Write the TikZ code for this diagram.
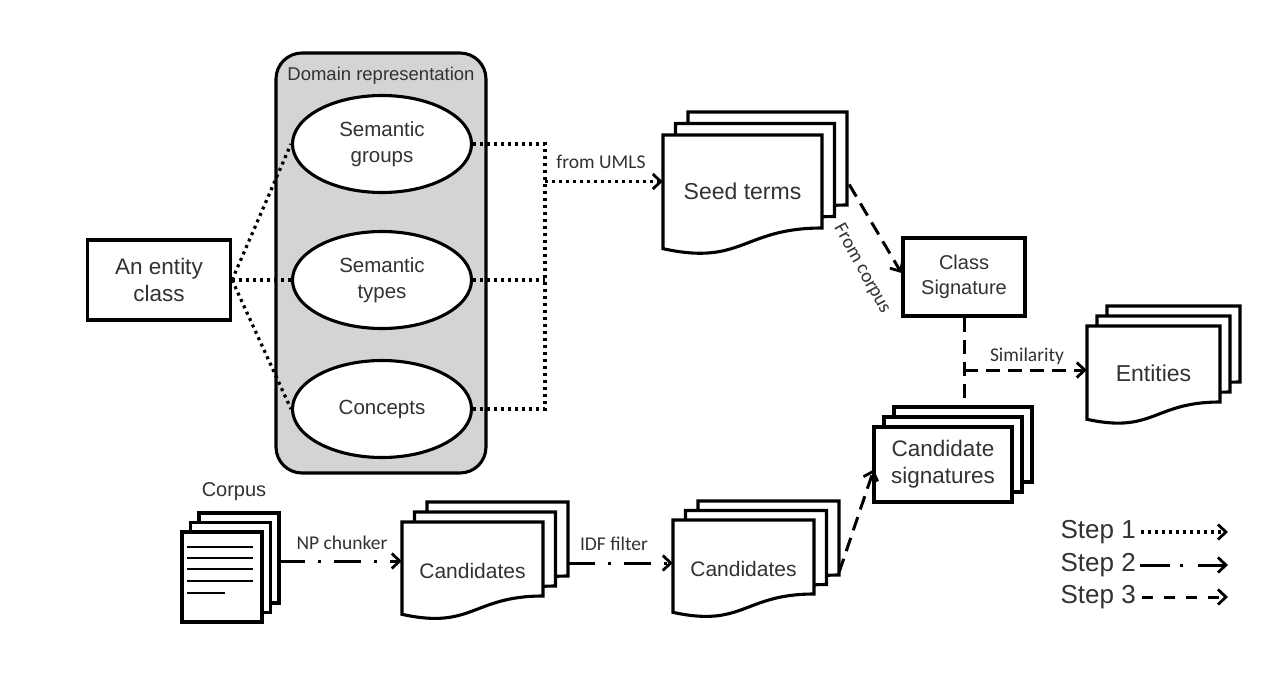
\documentclass[tikz,border=0pt]{standalone}
\usepackage{fontspec}
\setmainfont{Liberation Sans}
\newfontfamily\lblfont{Carlito}
\usetikzlibrary{arrows.meta,shapes.geometric}
\definecolor{domgray}{RGB}{212,212,214}
\definecolor{txt}{RGB}{50,50,50}
\tikzset{
  border/.style={draw=black, line width=3.1pt},
  page/.style={draw=black, fill=white, line width=3.1pt, line join=miter},
  dotl/.style={line width=3.2pt, dash pattern=on 3pt off 4pt},
  dashl/.style={line width=3pt, dash pattern=on 14pt off 8pt},
  ddotl/.style={line width=3pt, dash pattern=on 27pt off 13pt on 3pt off 13pt},
  arr/.style={-{Straight Barb[length=8pt,width=15pt,line width=2.8pt]}},
  lbl/.style={font=\lblfont\fontsize{19.5}{22}\selectfont, text=txt},
  ell/.style={ellipse, border, fill=white, minimum width=179, minimum height=97, align=center, font=\fontsize{20.5}{26}\selectfont, inner sep=0pt},
  legend/.style={font=\fontsize{26}{28}\selectfont, anchor=east, inner sep=1pt},
}
\newcommand{\wavydoc}[9]{%
  \foreach \k in {2,1,0}{%
    \draw[page] ({#2+\k*#6},{#3-\k*#7}) -- ({#2+\k*#6+#4},{#3-\k*#7}) -- ({#2+\k*#6+#4},{#3-\k*#7+#5})
      .. controls ({#2+\k*#6+0.5*#4},{#3-\k*#7+#5}) and ({#2+\k*#6+0.5*#4},{#3-\k*#7+#5+0.24*#4}) .. ({#2+\k*#6},{#3-\k*#7+#5+0.13*#4}) -- cycle;
  }%
  \node[minimum width=#4, minimum height=#5, inner sep=0pt, #8] (#1) at ({#2+0.5*#4},{#3+0.5*#5}) {#9};
}
\newcommand{\plaindoc}[9]{%
  \foreach \k in {2,1,0}{%
    \draw[page] ({#2+\k*#6},{#3-\k*#7}) rectangle ++(#4,#5);
  }%
  \node[minimum width=#4, minimum height=#5, inner sep=0pt, #8] (#1) at ({#2+0.5*#4},{#3+0.5*#5}) {#9};
  \coordinate (#1top) at ({#2+2*#6+0.5*#4},{#3-2*#7});
}
\begin{document}
\begin{tikzpicture}[x=1pt,y=-1pt, every node/.style={text=txt}]
\useasboundingbox (0,0) rectangle (1280,683);
\fill[white] (0,0) rectangle (1280,683);

% domain representation
\node[border, fill=domgray, rounded corners=26pt, minimum width=210, minimum height=420] (dom) at (381,263) {};
\node[font=\fontsize{18.5}{20}\selectfont] (domlbl) at (381,76) {Domain representation};
\node[ell] (sg) at (382,144) {Semantic\\groups};
\node[ell] (st) at (382,280) {Semantic\\types};
\node[ell] (ct) at (382,409) {Concepts};

% entity class
\node[border, minimum width=143, minimum height=80, align=center, font=\fontsize{22.5}{27}\selectfont] (ent) at (159,280) {An entity\\class};
\draw[dotl] (ent.east) -- (sg.west);
\draw[dotl] (ent.east) -- (st.west);
\draw[dotl] (ent.east) -- (ct.west);

% seed terms
\wavydoc{seed}{663}{135}{159}{93}{12.5}{11.5}{text height=36pt, text depth=0pt, font=\fontsize{23}{26}\selectfont}{Seed terms}
\coordinate (jt) at (545,144);
\coordinate (jb) at (545,409);
\coordinate (ja) at (545,181.5);
\draw[dotl] (sg.east) -- (jt) -- (jb) -- (ct.east);
\draw[dotl] (st.east) -- (st.east -| jt);
\draw[dotl,arr] (ja) -- (seed.west);
\node[lbl] (umls) at (601,162) {from UMLS};

% class signature
\node[border, minimum width=122, minimum height=78, align=center, font=\fontsize{20}{25}\selectfont] (cs) at (964,277) {Class\\Signature};
\draw[dashl,arr] ([xshift=27pt,yshift=-3pt]seed.east) -- ([yshift=4pt]cs.west);
\node[lbl, rotate=-61] (fc) at (862,269) {From corpus};

% entities
\wavydoc{ents}{1087}{326}{133}{76}{10}{10}{text height=34pt, text depth=0pt, font=\fontsize{23}{26}\selectfont}{Entities}

% candidate signatures
\plaindoc{csig}{874}{427}{138}{75}{10}{10}{align=center, font=\fontsize{22.5}{27}\selectfont}{Candidate\\signatures}
\draw[dashl] (cs.south) -- (cs.south |- csigtop);
\coordinate (jsim) at (964,370);
\draw[dashl,arr] (jsim) -- (jsim -| ents.west);
\node[lbl] (sim) at (1027,356) {Similarity};

% corpus
\plaindoc{corpus}{182}{532}{80}{90}{8.5}{9.5}{}{}
\foreach \yy/\xe in {547/253,558/253,569/253,581/253,593/225}
  \draw[line width=2.8pt] (187,\yy) -- (\xe,\yy);
\node[font=\fontsize{20}{24}\selectfont] (corpuslbl) at (234,492) {Corpus};

% candidates
\wavydoc{cand1}{402}{522}{141}{74}{12.5}{10}{text height=38pt, text depth=0pt, font=\fontsize{21}{25}\selectfont}{Candidates}
\wavydoc{cand2}{673}{520}{141}{74}{12.5}{9.5}{text height=38pt, text depth=0pt, font=\fontsize{21}{25}\selectfont}{Candidates}
\draw[ddotl,arr] ([xshift=16pt,yshift=16pt]corpus.east) -- ([yshift=-2pt]cand1.west);
\node[lbl] (np) at (342,543) {NP chunker};
\draw[ddotl,arr] ([xshift=25pt,yshift=-4pt]cand1.east) -- ([yshift=-6pt]cand2.west);
\node[lbl] (idf) at (614,544) {IDF filter};
\draw[dashl,arr] ([xshift=25pt,yshift=-15pt]cand2.east) -- ([yshift=-5pt]csig.west);

% legend
\node[legend] (s1) at (1137,532) {Step 1};
\node[legend] (s2) at (1137,565) {Step 2};
\node[legend] (s3) at (1137,597) {Step 3};
\coordinate (s1e) at (1228,532);
\coordinate (s2e) at (1228,565);
\coordinate (s3e) at (1228,597);
\draw[dotl,arr] ([xshift=4pt]s1.east) -- (s1e);
\draw[line width=3pt, dash pattern=on 30pt off 10pt on 3pt off 15pt,arr] ([xshift=3pt]s2.east) -- (s2e);
\draw[line width=3pt, dash pattern=on 11pt off 11pt,arr] ([xshift=5pt]s3.east) -- (s3e);
\end{tikzpicture}
\end{document}
